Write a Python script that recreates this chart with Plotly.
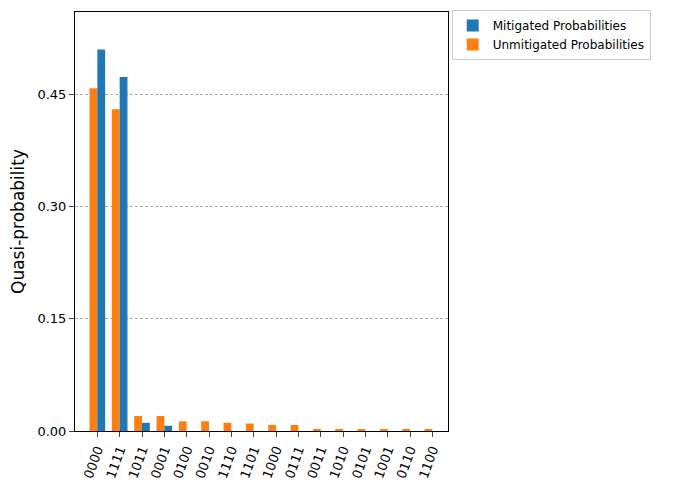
import plotly.graph_objects as go

states = ["0000","1111","1011","0001","0100","0010","1110","1101","1000","0111","0011","1010","0101","1001","0110","1100"]
unmitigated = [0.458,0.430,0.020,0.020,0.013,0.013,0.011,0.010,0.008,0.008,0.002,0.002,0.002,0.002,0.002,0.002]
mitigated = [0.510,0.473,0.011,0.007,0,0,0,0,0,0,0,0,0,0,0,0]
yticks = [0.0, 0.15, 0.30, 0.45]
ytick_text = ["0.00", "0.15", "0.30", "0.45"]

fig = go.Figure()
fig.add_bar(x=states, y=unmitigated, name="Unmitigated Probabilities", marker_color="#ff7f0e",
            marker_line_width=0, legendrank=2)
fig.add_bar(x=states, y=mitigated, name="Mitigated Probabilities", marker_color="#1f77b4",
            marker_line_width=0, legendrank=1)
fig.update_layout(
    width=688, height=489, barmode="group", bargap=0.3, bargroupgap=0,
    plot_bgcolor="white", paper_bgcolor="white",
    font=dict(family="DejaVu Sans", size=13, color="black"),
    margin=dict(l=67, r=248, t=2, b=66),
    legend=dict(x=1.01, y=1.005, xanchor="left", yanchor="top", bordercolor="#cccccc", borderwidth=1,
                font=dict(size=12), tracegroupgap=0, itemwidth=30),
    xaxis=dict(tickangle=-70, showline=True, linecolor="black", mirror=True, ticks="outside",
               range=[-1.0, 15.7], automargin=False),
    yaxis=dict(title=dict(text="Quasi-probability", font=dict(size=17), standoff=8), range=[0, 0.56],
               tickvals=yticks, ticktext=ytick_text, automargin=False,
               showgrid=True, gridcolor="#b0b0b0", griddash="3px,2px", showline=True, linecolor="black",
               mirror=True, ticks="outside", zeroline=False),
)
fig.write_html("out.html")
